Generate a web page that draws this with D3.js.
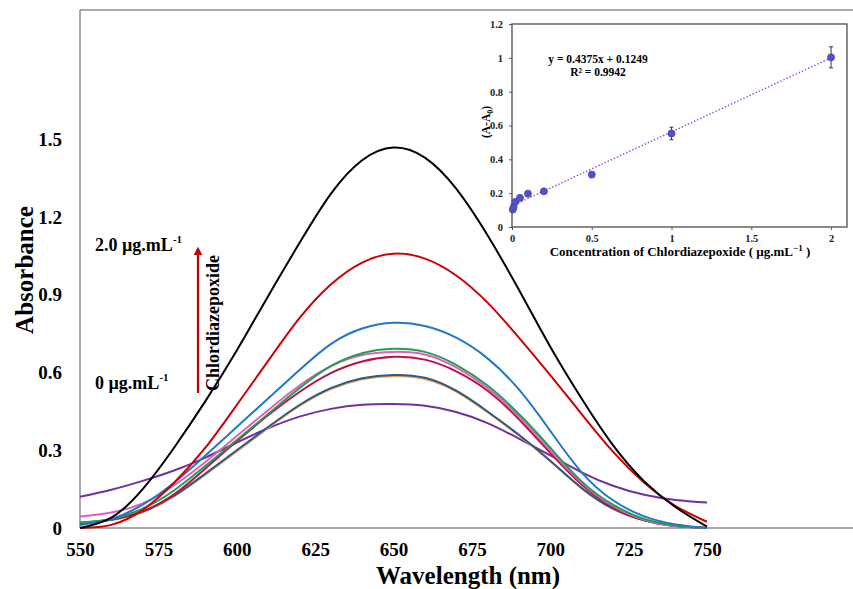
<!DOCTYPE html>
<html>
<head>
<meta charset="utf-8">
<script src="https://cdn.jsdelivr.net/npm/d3@7"></script>
<style>
  body { margin: 0; background: #fff; }
  svg { display: block; font-family: "Liberation Serif", "Times New Roman", serif; }
</style>
</head>
<body>
<svg id="chart" width="853" height="589"></svg>
<script>
// ---------------- DATA ----------------
const wavelengths = [550,560,570,580,590,600,610,620,630,640,650,660,670,680,690,700,710,720,730,740,750];
const xTickValues = [550,575,600,625,650,675,700,725,750];
const yTickValues = [0,0.3,0.6,0.9,1.2,1.5];
const yTickLabels = ["0","0.3","0.6","0.9","1.2","1.5"];

const absPurple  = [0.121,0.148,0.182,0.222,0.272,0.33,0.385,0.43,0.46,0.476,0.479,0.472,0.448,0.405,0.345,0.28,0.215,0.163,0.128,0.108,0.098];
const absOrange  = [0.02,0.031,0.061,0.122,0.206,0.296,0.386,0.471,0.536,0.574,0.587,0.575,0.527,0.447,0.357,0.258,0.153,0.074,0.03,0.008,0.0];
const absSlate   = [0.02,0.032,0.063,0.125,0.21,0.30,0.39,0.475,0.54,0.578,0.591,0.58,0.53,0.45,0.36,0.26,0.155,0.075,0.03,0.008,0.0];
const absCrimson = [0.015,0.033,0.065,0.13,0.23,0.335,0.435,0.525,0.598,0.643,0.661,0.65,0.605,0.53,0.42,0.29,0.168,0.08,0.03,0.008,0.0];
const absPink    = [0.044,0.06,0.095,0.165,0.255,0.355,0.455,0.55,0.625,0.668,0.68,0.67,0.62,0.54,0.43,0.30,0.175,0.085,0.032,0.008,0.0];
const absGreen   = [0.021,0.035,0.075,0.145,0.24,0.34,0.44,0.54,0.625,0.675,0.692,0.68,0.63,0.55,0.44,0.31,0.18,0.09,0.035,0.01,0.0];
const absBlue    = [0.012,0.035,0.09,0.175,0.28,0.39,0.50,0.61,0.71,0.77,0.792,0.78,0.735,0.655,0.535,0.375,0.215,0.107,0.045,0.014,0.0];
const absRed     = [0.0,0.012,0.07,0.175,0.31,0.475,0.645,0.81,0.94,1.025,1.059,1.04,0.975,0.87,0.735,0.59,0.44,0.295,0.175,0.085,0.024];
const absBlack   = [0.0,0.04,0.15,0.31,0.49,0.685,0.895,1.10,1.29,1.42,1.469,1.43,1.31,1.13,0.92,0.70,0.50,0.32,0.18,0.08,0.005];

const seriesList = [absPurple, absOrange, absSlate, absCrimson, absPink, absGreen, absBlue, absRed, absBlack];
const seriesColors = ["#7030a0","#f0a050","#2f5a82","#b8124a","#e060c0","#22a050","#1f78c8","#cc0000","#000000"];

// inset data
const concentration = [0.005,0.01,0.02,0.05,0.1,0.2,0.5,1,2];
const deltaA        = [0.103,0.118,0.148,0.172,0.197,0.211,0.31,0.553,1.003];
const deltaErr      = [0.005,0.005,0.006,0.006,0.006,0.006,0.01,0.037,0.062];
const insetXTicks = [0,0.5,1,1.5,2];
const insetXLabels = ["0","0.5","1","1.5","2"];
const insetYTicks = [0,0.2,0.4,0.6,0.8,1,1.2];
const insetYLabels = ["0","0.2","0.4","0.6","0.8","1","1.2"];
const trendSlope = 0.4375, trendIntercept = 0.1249;
const eqText = "y = 0.4375x + 0.1249";
const r2Text = "R² = 0.9942";

// ---------------- MAIN CHART ----------------
const svg = d3.select("#chart");
const x = d3.scaleLinear().domain([550, 750]).range([80, 707]);
const y = d3.scaleLinear().domain([0, 2]).range([528, 10]);

const frameColor = "#8c8c8c";
svg.append("line").attr("x1",80).attr("x2",853).attr("y1",y(2)).attr("y2",y(2)).attr("stroke",frameColor).attr("stroke-width",1.5);
svg.append("line").attr("x1",80).attr("x2",80).attr("y1",y(2)).attr("y2",y(0)).attr("stroke",frameColor).attr("stroke-width",1.5);
svg.append("line").attr("x1",80).attr("x2",853).attr("y1",y(0)).attr("y2",y(0)).attr("stroke",frameColor).attr("stroke-width",1.5);

const gx = svg.append("g").attr("transform", `translate(0,${y(0)})`)
  .call(d3.axisBottom(x).tickValues(xTickValues).tickSize(0).tickPadding(15).tickFormat(d3.format("d")));
gx.select(".domain").remove();
gx.selectAll("text").attr("font-size", 19).attr("font-weight", "bold").attr("fill", "#000")
  .attr("font-family", "Liberation Serif, serif");

const gy = svg.append("g").attr("transform", `translate(80,0)`)
  .call(d3.axisLeft(y).tickValues(yTickValues).tickSize(0).tickPadding(18).tickFormat((d,i) => yTickLabels[i]));
gy.select(".domain").remove();
gy.selectAll("text").attr("font-size", 19).attr("font-weight", "bold").attr("fill", "#000")
  .attr("font-family", "Liberation Serif, serif");

svg.append("text").attr("x", 468).attr("y", 584).attr("text-anchor","middle")
  .attr("font-size", 25).attr("font-weight","bold").text("Wavelength (nm)");
svg.append("text").attr("transform","translate(33,270) rotate(-90)").attr("text-anchor","middle")
  .attr("font-size", 25).attr("font-weight","bold").text("Absorbance");

const line = d3.line().x((d,i) => x(wavelengths[i])).y(d => y(d)).curve(d3.curveNatural);
svg.append("g").selectAll("path").data(seriesList).join("path")
  .attr("d", d => line(d)).attr("fill","none")
  .attr("stroke", (d,i) => seriesColors[i]).attr("stroke-width", 2);

const ann1 = svg.append("text").attr("x",95).attr("y",251).attr("font-size",18).attr("font-weight","bold");
ann1.append("tspan").text("2.0 µg.mL");
ann1.append("tspan").attr("font-size",11).attr("dy",-8).text("-1");
const ann2 = svg.append("text").attr("x",95).attr("y",389).attr("font-size",18).attr("font-weight","bold");
ann2.append("tspan").text("0 µg.mL");
ann2.append("tspan").attr("font-size",11).attr("dy",-8).text("-1");

svg.append("defs").append("marker").attr("id","arrow").attr("viewBox","0 0 10 10")
  .attr("refX",5).attr("refY",5).attr("markerWidth",4).attr("markerHeight",4).attr("orient","auto")
  .append("path").attr("d","M0,0 L10,5 L0,10 z").attr("fill","#c00000");
svg.append("line").attr("x1",198).attr("x2",198).attr("y1",393).attr("y2",251)
  .attr("stroke","#c00000").attr("stroke-width",2.2).attr("marker-end","url(#arrow)");
svg.append("text").attr("transform","translate(219,323) rotate(-90)").attr("text-anchor","middle")
  .attr("font-size",18).attr("font-weight","bold").text("Chlordiazepoxide");

// ---------------- INSET ----------------
const ix = d3.scaleLinear().domain([0, 2.1]).range([512, 847]);
const iy = d3.scaleLinear().domain([0, 1.2]).range([227, 24]);
const inset = svg.append("g");
const insetColor = "#595959";

const igx = inset.append("g").attr("transform",`translate(0,${iy(0)})`)
  .call(d3.axisBottom(ix).tickValues(insetXTicks).tickSize(3).tickPadding(5).tickFormat((d,i)=>insetXLabels[i]));
igx.select(".domain").remove();
igx.selectAll("line").attr("stroke",insetColor);
igx.selectAll("text").attr("font-size",10.5).attr("font-weight","bold").attr("fill","#222").attr("font-family","Liberation Serif, serif");

const igy = inset.append("g").attr("transform",`translate(${ix(0)},0)`)
  .call(d3.axisLeft(iy).tickValues(insetYTicks).tickSize(3).tickPadding(6).tickFormat((d,i)=>insetYLabels[i]));
igy.select(".domain").remove();
igy.selectAll("line").attr("stroke",insetColor);
igy.selectAll("text").attr("font-size",10.5).attr("font-weight","bold").attr("fill","#222").attr("font-family","Liberation Serif, serif");

inset.append("rect").attr("x",ix(0)).attr("y",iy(1.2)).attr("width",ix(2.1)-ix(0)).attr("height",iy(0)-iy(1.2))
  .attr("fill","none").attr("stroke",insetColor).attr("stroke-width",1.4);

inset.append("line").attr("x1",ix(0)).attr("y1",iy(trendIntercept))
  .attr("x2",ix(2)).attr("y2",iy(trendSlope*2+trendIntercept))
  .attr("stroke","#9a40d0").attr("stroke-width",1.4).attr("stroke-dasharray","1.4,2");

const eb = inset.append("g").selectAll("g").data(concentration).join("g");
eb.append("line").attr("x1",(d)=>ix(d)).attr("x2",(d)=>ix(d))
  .attr("y1",(d,i)=>iy(deltaA[i]+deltaErr[i])).attr("y2",(d,i)=>iy(deltaA[i]-deltaErr[i]))
  .attr("stroke","#333").attr("stroke-width",1);
eb.append("line").attr("x1",(d)=>ix(d)-2).attr("x2",(d)=>ix(d)+2)
  .attr("y1",(d,i)=>iy(deltaA[i]+deltaErr[i])).attr("y2",(d,i)=>iy(deltaA[i]+deltaErr[i]))
  .attr("stroke","#333").attr("stroke-width",1);
eb.append("line").attr("x1",(d)=>ix(d)-2).attr("x2",(d)=>ix(d)+2)
  .attr("y1",(d,i)=>iy(deltaA[i]-deltaErr[i])).attr("y2",(d,i)=>iy(deltaA[i]-deltaErr[i]))
  .attr("stroke","#333").attr("stroke-width",1);

inset.append("g").selectAll("circle").data(concentration).join("circle")
  .attr("cx",d=>ix(d)).attr("cy",(d,i)=>iy(deltaA[i])).attr("r",3.6)
  .attr("fill","#5052c8").attr("stroke","#4446b0").attr("stroke-width",0.6);

inset.append("text").attr("x",598).attr("y",63).attr("text-anchor","middle")
  .attr("font-size",11.5).attr("font-weight","bold").text(eqText);
inset.append("text").attr("x",598).attr("y",76).attr("text-anchor","middle")
  .attr("font-size",11.5).attr("font-weight","bold").text(r2Text);

const ixt = inset.append("text").attr("x",680).attr("y",256).attr("text-anchor","middle")
  .attr("font-size",13).attr("font-weight","bold");
ixt.append("tspan").text("Concentration of Chlordiazepoxide ( µg.mL");
ixt.append("tspan").attr("font-size",9).attr("dy",-5).text("−1");
ixt.append("tspan").attr("dy",5).text(" )");

const iyt = inset.append("text").attr("transform","translate(490,122) rotate(-90)").attr("text-anchor","middle")
  .attr("font-size",11.5).attr("font-weight","bold");
iyt.append("tspan").text("(A-A");
iyt.append("tspan").attr("font-size",8).attr("dy",3).text("0");
iyt.append("tspan").attr("dy",-3).text(")");
</script>
</body>
</html>
